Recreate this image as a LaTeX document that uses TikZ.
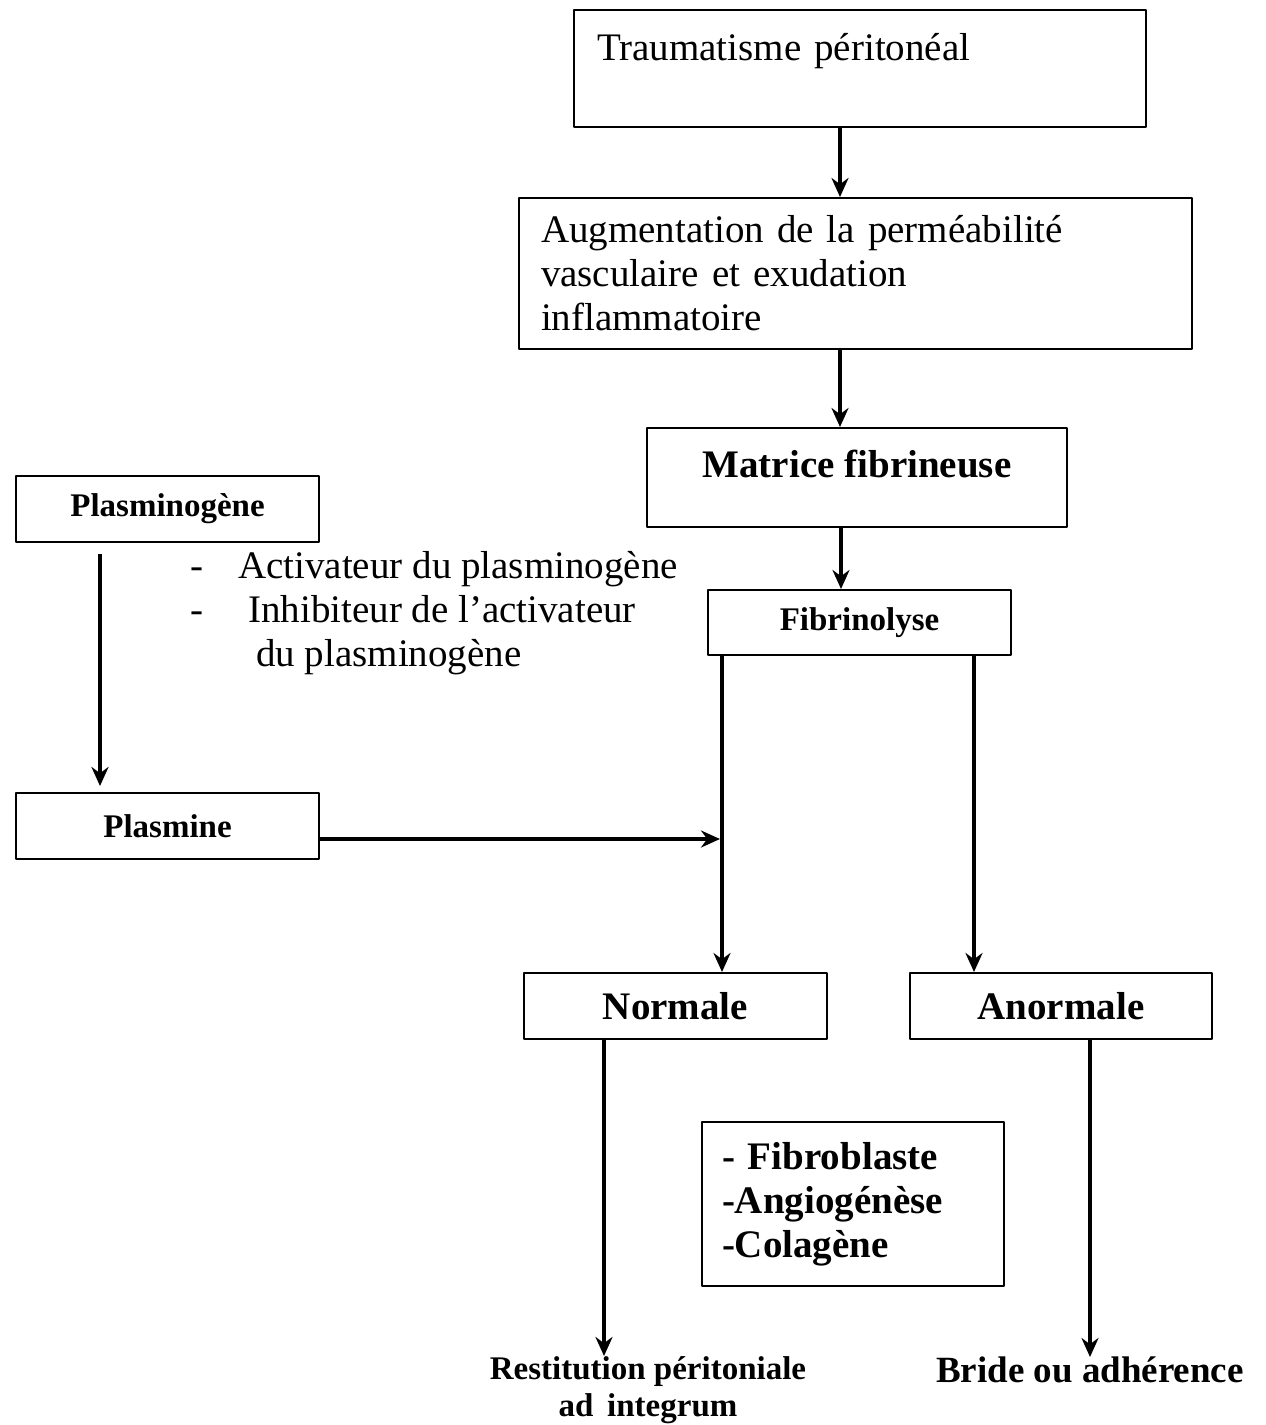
\documentclass[tikz,border=0pt]{standalone}
\usepackage{fontspec}
\setmainfont{Liberation Serif}
\usetikzlibrary{arrows.meta}
\newcommand{\regbig}{\fontsize{39}{44}\selectfont}
\newcommand{\boldbig}{\fontsize{39}{44}\selectfont\bfseries}
\newcommand{\boldsmall}{\fontsize{33}{37}\selectfont\bfseries}
\begin{document}
\begin{tikzpicture}[x=1pt,y=-1pt,line join=round,>={Stealth[length=19pt,width=17pt]}]
	\tikzset{box/.style={draw,line width=2pt,rectangle,inner sep=0pt},
		arr/.style={->,line width=4pt}}
	\fill[white] (0,0) rectangle (1266,1425);
	% main column
	\node[box,minimum width=572pt,minimum height=117pt,text width=526pt,align=left,text depth=44pt,font=\regbig] (trauma) at (860,68.5) {Traumatisme péritonéal};
	\node[box,minimum width=673pt,minimum height=151pt,text width=629pt,align=left,font=\regbig] (augm) at (855.5,273.5) {Augmentation de la perméabilité\\vasculaire et exudation\\inflammatoire};
	\node[box,minimum width=420pt,minimum height=99pt,text depth=27pt,font=\boldbig] (matrice) at (857,477.5) {Matrice fibrineuse};
	\node[box,minimum width=303pt,minimum height=65pt,font=\boldsmall] (fibrino) at (859.5,622.5) {Fibrinolyse};
	% left column
	\node[box,minimum width=303pt,minimum height=66pt,font=\boldsmall] (plgene) at (167.5,509) {Plasminogène};
	\node[box,minimum width=303pt,minimum height=66pt,font=\boldsmall] (plmine) at (167.5,826) {Plasmine};
	\node[anchor=base west,align=left,inner sep=0pt,font=\regbig] (facteurs) at (190,666) {\makebox[48pt][l]{-}Activateur du plasminogène\\\makebox[58pt][l]{-}Inhibiteur de l’activateur\\\hspace*{66pt}du plasminogène};
	% outcomes
	\node[box,minimum width=303pt,minimum height=66pt,font=\boldbig] (normale) at (675.5,1006) {Normale};
	\node[box,minimum width=302pt,minimum height=66pt,font=\boldbig] (anormale) at (1061,1006) {Anormale};
	\node[box,minimum width=302pt,minimum height=164pt,text width=262pt,align=left,font=\boldbig] (cicatr) at (853,1204) {- Fibroblaste\\-Angiogénèse\\-Colagène};
	\node[anchor=north,align=center,inner sep=0pt,font=\boldsmall] (restit) at (648,1356) {Restitution péritoniale\\ad\, integrum};
	\node[anchor=north,inner sep=0pt,font=\fontsize{37}{40}\selectfont\bfseries] (bride) at (1090,1357) {Bride ou adhérence};
	% connectors
	\coordinate (spine) at (840,0);
	\coordinate (stem) at (100,0);
	\coordinate (join) at (722,839);
	\coordinate (right) at (974,0);
	\draw[arr] (spine |- trauma.south) -- (spine |- augm.north);
	\draw[arr] (spine |- augm.south) -- (spine |- matrice.north);
	\draw[arr] ([xshift=1pt]spine |- matrice.south) -- ([xshift=1pt]spine |- fibrino.north);
	\draw[line width=4pt] (join |- fibrino.south) -- (join);
	\draw[arr] (join) -- (join |- normale.north);
	\draw[arr] (right |- fibrino.south) -- (right |- anormale.north);
	\draw[arr] ([yshift=-11pt]stem |- plgene.south) -- ([yshift=6pt]stem |- plmine.north);
	\draw[arr] (plmine.east |- join) -- ([xshift=-2pt]join);
	\draw[arr] ([xshift=604pt]0,0 |- normale.south) -- ([xshift=604pt]0,0 |- restit.north);
	\draw[arr] ([xshift=1090pt]0,0 |- anormale.south) -- ([xshift=1090pt]0,0 |- bride.north);
\end{tikzpicture}
\end{document}
